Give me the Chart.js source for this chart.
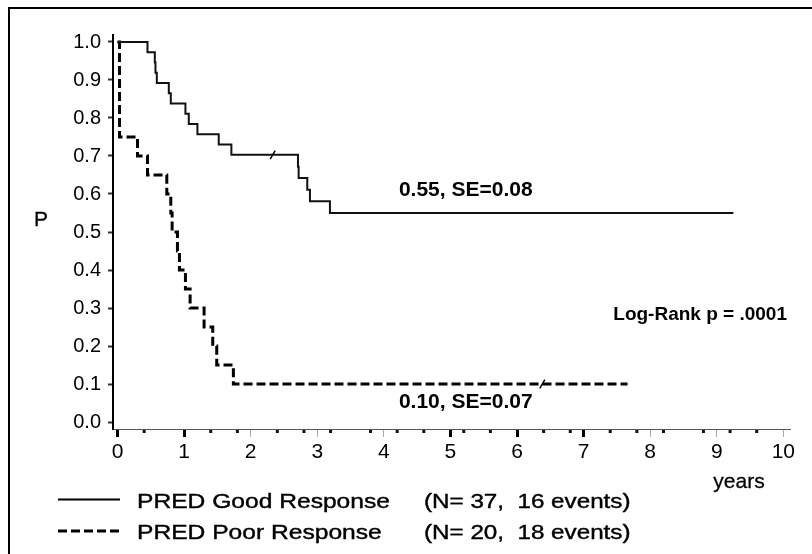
<!DOCTYPE html>
<html><head><meta charset="utf-8">
<script src="https://cdn.jsdelivr.net/npm/chart.js@4/dist/chart.umd.min.js"></script>
<style>html,body{margin:0;padding:0;background:#fff}#wrap{width:812px;height:554px;position:relative}</style>
</head><body><div id="wrap"><canvas id="c" width="812" height="554"></canvas></div>
<script>
// ---- data ----
const seriesNames = ['PRED Good Response', 'PRED Poor Response'];
const nPatients = [37, 20];
const nEvents = [16, 18];
const goodTimes = [0, 0.45, 0.56, 0.57, 0.59, 0.77, 0.80, 1.02, 1.07, 1.20, 1.52, 1.71, 2.71, 2.72, 2.85, 2.89, 3.19, 9.25];
const goodSurv  = [1.0, 0.973, 0.946, 0.919, 0.892, 0.865, 0.838, 0.811, 0.784, 0.757, 0.730, 0.703, 0.672, 0.642, 0.611, 0.581, 0.550, 0.550];
const poorTimes = [0, 0.03, 0.30, 0.45, 0.74, 0.80, 0.82, 0.90, 0.93, 1.02, 1.09, 1.30, 1.43, 1.49, 1.74, 7.66];
const poorSurv  = [1.0, 0.75, 0.70, 0.65, 0.60, 0.55, 0.50, 0.45, 0.40, 0.35, 0.30, 0.25, 0.20, 0.15, 0.10, 0.10];
const goodCensorTimes = [2.33];
const goodCensorSurv  = [0.703];
const poorCensorTimes = [6.38];
const poorCensorSurv  = [0.10];
const finalEstimates = ['0.55', '0.10'];
const finalSE = ['0.08', '0.07'];
const logRankP = '.0001';
const xTickLabels = ['0','1','2','3','4','5','6','7','8','9','10'];
const yTickLabels = ['0.0','0.1','0.2','0.3','0.4','0.5','0.6','0.7','0.8','0.9','1.0'];
const xMinorMarks = [0.4, 1.4, 1.8, 2.4, 2.8, 3.2, 3.8, 4.2, 4.6, 5.2, 5.6, 6.4, 6.8, 7.4, 7.8, 8.2, 8.8, 9.2, 9.6];
const xThickTicks = [0, 1, 5, 6, 7];
const xAxisTitle = 'years';
const yAxisTitle = 'P';

// ---- helpers ----
const FONT = '"Liberation Sans", Arial, Helvetica, sans-serif';
function txt(ctx, s, x, y, font, align, sx, stroke) {
  ctx.save();
  ctx.font = font;
  ctx.fillStyle = '#000';
  ctx.strokeStyle = '#000';
  ctx.textBaseline = 'middle';
  ctx.textAlign = 'left';
  const w = ctx.measureText(s).width * sx;
  const x0 = align === 'center' ? x - w / 2 : (align === 'right' ? x - w : x);
  ctx.translate(x0, y);
  ctx.scale(sx, 1);
  ctx.fillText(s, 0, 0);
  if (stroke) { ctx.lineWidth = stroke; ctx.strokeText(s, 0, 0); }
  ctx.restore();
}
const toPts = (xs, ys) => xs.map((t, i) => ({x: t, y: ys[i]}));

const decor = {
  id: 'decor',
  afterDraw(chart) {
    const ctx = chart.ctx;
    const xs = chart.scales.x, ys = chart.scales.y;
    ctx.save();
    // frame (top and left)
    ctx.strokeStyle = '#000';
    ctx.lineWidth = 2;
    ctx.beginPath();
    ctx.moveTo(9, 554); ctx.lineTo(9, 8); ctx.lineTo(812, 8);
    ctx.stroke();
    // minor marks on x axis
    ctx.fillStyle = '#111';
    xMinorMarks.forEach(v => {
      const px = xs.getPixelForValue(v);
      ctx.fillRect(px - 1.5, xs.top + 1, 3, 3);
    });
    // axis titles
    txt(ctx, yAxisTitle, 41, 220, '21px ' + FONT, 'center', 1, 0.3);
    txt(ctx, xAxisTitle, 739, 482, '21px ' + FONT, 'center', 1, 0.3);
    // annotations
    const bold = 'bold 21px ' + FONT;
    txt(ctx, finalEstimates[0] + ', SE=' + finalSE[0], xs.getPixelForValue(5.23), ys.getPixelForValue(0.61), bold, 'center', 1, 0);
    txt(ctx, finalEstimates[1] + ', SE=' + finalSE[1], xs.getPixelForValue(5.23), ys.getPixelForValue(0.051), bold, 'center', 1, 0);
    txt(ctx, 'Log-Rank p = ' + logRankP, xs.getPixelForValue(8.75), ys.getPixelForValue(0.282), 'bold 19px ' + FONT, 'center', 1, 0);
    // legend
    const rows = [502, 533];
    const lineY = [499.5, 531];
    ctx.strokeStyle = '#000';
    ctx.lineWidth = 2;
    ctx.setLineDash([]);
    ctx.beginPath(); ctx.moveTo(58, lineY[0]); ctx.lineTo(120, lineY[0]); ctx.stroke();
    ctx.lineWidth = 3;
    ctx.setLineDash([9, 4]);
    ctx.beginPath(); ctx.moveTo(58, lineY[1]); ctx.lineTo(121, lineY[1]); ctx.stroke();
    ctx.setLineDash([]);
    seriesNames.forEach((name, i) => {
      txt(ctx, name, 137, rows[i], '20px ' + FONT, 'left', 1.23, 0.4);
      txt(ctx, '(N= ' + nPatients[i] + ',  ' + nEvents[i] + ' events)', 424, rows[i], '20px ' + FONT, 'left', 1.21, 0.4);
    });
    ctx.restore();
  }
};

new Chart(document.getElementById('c'), {
  type: 'line',
  data: {
    datasets: [
      {
        label: seriesNames[0],
        data: toPts(goodTimes, goodSurv),
        stepped: 'before',
        borderColor: '#111',
        borderWidth: 2,
        pointRadius: 0,
        fill: false
      },
      {
        label: seriesNames[1],
        data: toPts(poorTimes, poorSurv),
        stepped: 'before',
        borderColor: '#000',
        borderWidth: 3,
        borderDash: [9, 4],
        pointRadius: 0,
        fill: false
      },
      {
        type: 'scatter',
        label: 'censored good',
        data: toPts(goodCensorTimes, goodCensorSurv),
        pointStyle: 'line',
        rotation: -60,
        pointRadius: 5,
        borderColor: '#000',
        borderWidth: 1.5
      },
      {
        type: 'scatter',
        label: 'censored poor',
        data: toPts(poorCensorTimes, poorCensorSurv),
        pointStyle: 'line',
        rotation: -60,
        pointRadius: 5,
        borderColor: '#000',
        borderWidth: 1.5
      }
    ]
  },
  options: {
    responsive: false,
    animation: false,
    devicePixelRatio: 1,
    layout: {padding: {top: 35, right: 22, left: 0, bottom: 0}},
    plugins: {legend: {display: false}, tooltip: {enabled: false}},
    scales: {
      x: {
        type: 'linear',
        min: -0.068,
        max: 10.1,
        afterBuildTicks: s => { s.ticks = xTickLabels.map(l => ({value: parseFloat(l)})); },
        afterFit: s => { s.height = 125; },
        ticks: {
          callback: (v, i) => xTickLabels[i],
          font: {family: FONT, size: 21},
          color: '#000',
          padding: 3,
          autoSkip: false,
          maxRotation: 0
        },
        grid: {
          drawOnChartArea: false,
          drawTicks: true,
          tickLength: 8,
          tickColor: c => (c.tick && xThickTicks.includes(c.tick.value)) ? '#000' : '#aaa',
          tickWidth: c => (c.tick && xThickTicks.includes(c.tick.value)) ? 3 : 1
        },
        border: {display: true, color: '#555', width: 1}
      },
      y: {
        type: 'linear',
        min: -0.0184,
        max: 1.0184,
        afterBuildTicks: s => { s.ticks = yTickLabels.map(l => ({value: parseFloat(l)})); },
        afterFit: s => { s.width = 113; },
        ticks: {
          callback: (v, i) => yTickLabels[i],
          font: {family: FONT, size: 20},
          color: '#000',
          padding: 7,
          autoSkip: false
        },
        grid: {
          drawOnChartArea: false,
          drawTicks: true,
          tickLength: 5,
          tickColor: '#333',
          tickWidth: 2
        },
        border: {display: true, color: '#000', width: 2}
      }
    }
  },
  plugins: [decor]
});
</script>
</body></html>
